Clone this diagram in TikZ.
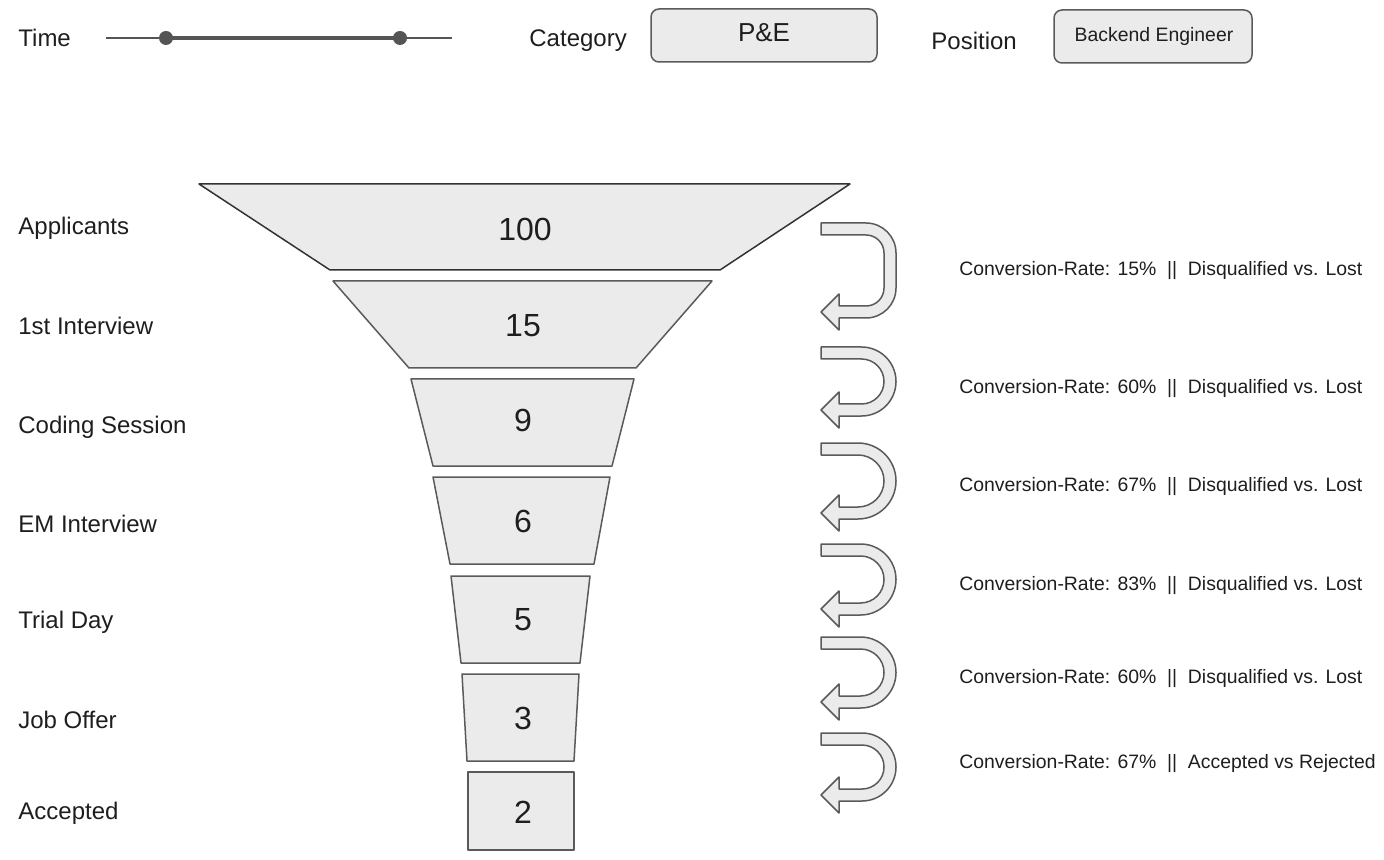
\documentclass[tikz,border=0pt]{standalone}
\usepackage{fontspec}
\setmainfont{Liberation Sans}
\definecolor{boxfill}{HTML}{EBEBEB}
\definecolor{edge}{HTML}{5A5A5A}
\definecolor{darkedge}{HTML}{333333}
\definecolor{ink}{HTML}{1E1E1E}
\definecolor{slidercol}{HTML}{555555}
\newcommand{\turnarrow}[3]{%
\draw[uarrow] (821,#1) -- ({896-#3},#1) arc[start angle=-90,end angle=0,radius=#3]
 -- (896,{#2-#3}) arc[start angle=0,end angle=90,radius=#3]
 -- (839,#2) -- (839,{#2+12}) -- (821,{#2-6}) -- (839,{#2-24}) -- (839,{#2-12})
 -- ({896-#3},{#2-12}) arc[start angle=90,end angle=0,radius={#3-12}]
 -- (884,{#1+#3}) arc[start angle=0,end angle=-90,radius={#3-12}]
 -- (821,{#1+12}) -- cycle;}
\begin{document}
\begin{tikzpicture}[x=0.5pt,y=-0.5pt,
  every node/.style={text=ink},
  lbl/.style={anchor=west,inner sep=0pt,font=\fontsize{12}{14}\selectfont},
  conv/.style={anchor=west,inner sep=0pt,font=\fontsize{9.7}{12}\selectfont},
  num/.style={inner sep=0pt,font=\fontsize{16}{19}\selectfont},
  boxtext/.style={inner sep=0pt,font=\fontsize{10}{12}\selectfont},
  stage/.style={fill=boxfill,draw=edge,line width=0.75pt,line join=round},
  uarrow/.style={fill=boxfill,draw=edge,line width=0.75pt,line join=round},
  selbox/.style={fill=boxfill,draw=edge,line width=0.75pt,rounded corners=4pt}]
\useasboundingbox (0,0) rectangle (1384,860);
% top bar
\node[lbl] (time) at (18,38) {Time};
\draw[slidercol,line width=0.75pt] (106,38) -- (452,38);
\draw[slidercol,line width=2pt] (166,38) -- (400,38);
\fill[slidercol] (166,38) circle[radius=7];
\fill[slidercol] (400,38) circle[radius=7];
\node[lbl] (cat) at (529,41) {Category};
\draw[selbox] (651,9) rectangle (877,62);
\node[boxtext,font=\fontsize{13}{15}\selectfont] (catval) at (764,33) {P\&E};
\node[lbl] (pos) at (931,41) {Position};
\draw[selbox] (1054,10) rectangle (1252,63);
\node[boxtext,font=\fontsize{9.7}{12}\selectfont] (posval) at (1154,36) {Backend Engineer};
% stage labels
\node[lbl] (l1) at (18,228) {Applicants};
\node[lbl] (l2) at (18,326) {1st Interview};
\node[lbl] (l3) at (18,427) {Coding Session};
\node[lbl] (l4) at (18,524) {EM Interview};
\node[lbl] (l5) at (18,622) {Trial Day};
\node[lbl] (l6) at (18,720) {Job Offer};
\node[lbl] (l7) at (18,813) {Accepted};
% funnel
\draw[stage,draw=darkedge] (199,184) -- (850,184) -- (720,270) -- (330,270) -- cycle;
\draw[stage] (333,281) -- (712,281) -- (636,368) -- (409,368) -- cycle;
\draw[stage] (411,379) -- (634,379) -- (612,466) -- (433,466) -- cycle;
\draw[stage] (433,477) -- (610,477) -- (594,564) -- (450,564) -- cycle;
\draw[stage] (451,576) -- (590,576) -- (580,663) -- (461,663) -- cycle;
\draw[stage] (462,674) -- (579,674) -- (574,761) -- (467,761) -- cycle;
\draw[stage] (468,772) rectangle (574,850);
\node[num] (n1) at (525,229) {100};
\node[num] (n2) at (523,326) {15};
\node[num] (n3) at (523,420) {9};
\node[num] (n4) at (523,521) {6};
\node[num] (n5) at (523,620) {5};
\node[num] (n6) at (523,718) {3};
\node[num] (n7) at (523,812) {2};
% turn arrows
\turnarrow{223}{318}{30}
\turnarrow{347}{416}{34.5}
\turnarrow{443}{519}{38}
\turnarrow{544}{615}{35.5}
\turnarrow{637}{708}{35.5}
\turnarrow{733}{801}{34}
% conversion texts
\node[conv] (c1) at (959,271) {Conversion-Rate: 15\%~~||~~Disqualified vs. Lost};
\node[conv] (c2) at (959,389) {Conversion-Rate: 60\%~~||~~Disqualified vs. Lost};
\node[conv] (c3) at (959,487) {Conversion-Rate: 67\%~~||~~Disqualified vs. Lost};
\node[conv] (c4) at (959,586) {Conversion-Rate: 83\%~~||~~Disqualified vs. Lost};
\node[conv] (c5) at (959,679) {Conversion-Rate: 60\%~~||~~Disqualified vs. Lost};
\node[conv] (c6) at (959,764) {Conversion-Rate: 67\%~~||~~Accepted vs Rejected};
\end{tikzpicture}
\end{document}
